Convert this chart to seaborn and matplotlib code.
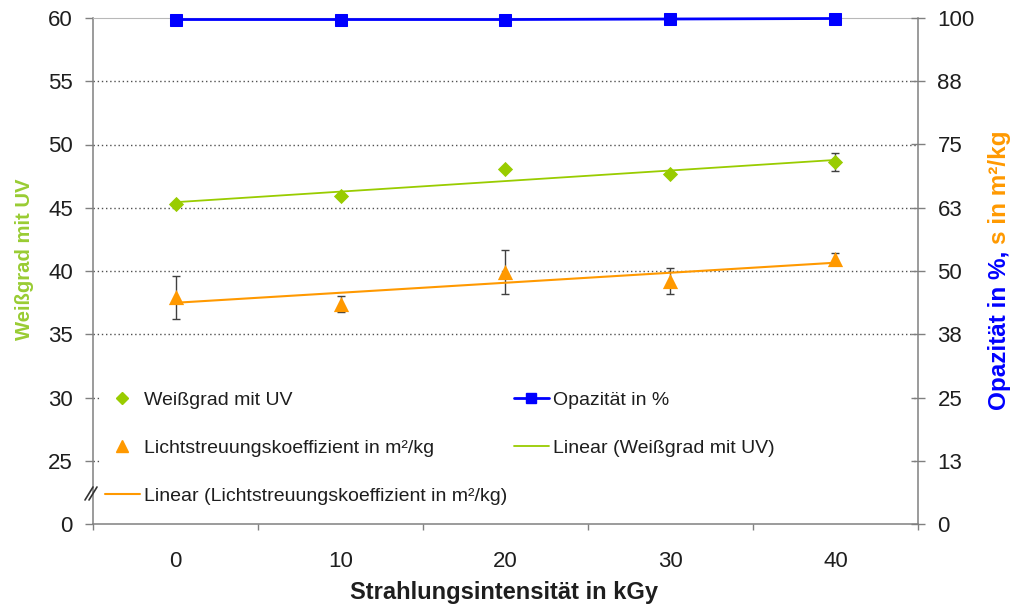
import numpy as np
import pandas as pd
import matplotlib
matplotlib.use("Agg")
import matplotlib.pyplot as plt
import seaborn as sns
from matplotlib.patches import Rectangle
from matplotlib.lines import Line2D

# Messwerte je Strahlungsdosis
doses = [0, 10, 20, 30, 40]
weissgrad = [45.3, 45.9, 48.1, 47.65, 48.6]
weissgrad_err = [0.1, 0.1, 0.1, 0.1, 0.7]
streuung = [44.8, 43.4, 49.8, 48.0, 52.4]
streuung_err = [4.3, 1.6, 4.4, 2.6, 1.1]
opazitaet = [99.7, 99.7, 99.7, 99.8, 99.9]

# Achsenbeschriftungen (linke Achse unterbrochen zwischen 0 und 25)
left_ticks = [20, 25, 30, 35, 40, 45, 50, 55, 60]
left_tick_labels = ["0", "25", "30", "35", "40", "45", "50", "55", "60"]
right_ticks = [0, 12.5, 25, 37.5, 50, 62.5, 75, 87.5, 100]
right_tick_labels = ["0", "13", "25", "38", "50", "63", "75", "88", "100"]

GREEN = "#99CC00"
GREEN_TXT = "#99CC33"
ORANGE = "#FF9900"
BLUE = "#0000FF"
GRAY = "#808080"
TXT = "#1e1e1e"

sns.set_theme(style="white")
plt.rcParams["font.family"] = ["Liberation Sans", "DejaVu Sans"]

W, H = 1012, 614
fig = plt.figure(figsize=(W / 100, H / 100), dpi=100)
ax = fig.add_axes([93 / W, 1 - 524 / H, 825 / W, 506 / H])
ax2 = ax.twinx()

df = pd.DataFrame({
    "dose": doses,
    "weiss": weissgrad,
    "streu": streuung,
    "opaz": opazitaet,
})
df["weiss_fit"] = np.polyval(np.polyfit(df["dose"], df["weiss"], 1), df["dose"])
df["streu_fit"] = np.polyval(np.polyfit(df["dose"], df["streu"], 1), df["dose"])

# Weißgrad (linke Achse)
sns.lineplot(data=df, x="dose", y="weiss_fit", ax=ax, color=GREEN, lw=1.3, zorder=3)
ax.errorbar(df["dose"], df["weiss"], yerr=weissgrad_err, fmt="none",
            ecolor="#404040", elinewidth=1, capsize=3, zorder=4)
sns.scatterplot(data=df, x="dose", y="weiss", ax=ax, marker="D", s=60,
                color=GREEN, edgecolor=GREEN, linewidth=0, zorder=5)

# Lichtstreuung und Opazität (rechte Achse)
ax2.errorbar(df["dose"], df["streu"], yerr=streuung_err, fmt="none",
             ecolor="#404040", elinewidth=1, capsize=3, zorder=2)
sns.scatterplot(data=df, x="dose", y="streu", ax=ax2, marker="^", s=120,
                color=ORANGE, edgecolor=ORANGE, linewidth=0, zorder=3)
sns.lineplot(data=df, x="dose", y="streu_fit", ax=ax2, color=ORANGE, lw=1.5, zorder=4)
sns.lineplot(data=df, x="dose", y="opaz", ax=ax2, color=BLUE, lw=2, marker="s",
             markersize=9, markeredgecolor=BLUE, zorder=5)
for ln in ax2.get_lines():
    ln.set_clip_on(False)

# x-Achse: Kategorien mit Teilstrichen zwischen den Werten
ax.set_xlim(-5, 45)
ax.set_xticks(doses)
ax.set_xticks([-5, 5, 15, 25, 35, 45], minor=True)
ax.tick_params(axis="x", which="major", bottom=False, length=0, pad=19.5,
               labelsize=16, labelcolor=TXT)
ax.tick_params(axis="x", which="minor", bottom=True, length=4.3, width=1,
               color=GRAY, direction="out")

ax.set_ylim(20, 60)
ax.set_yticks(left_ticks)
ax.set_yticklabels(left_tick_labels)
ax.tick_params(axis="y", left=True, direction="out", length=5.8, width=1,
               color=GRAY, pad=8.6, labelsize=16, labelcolor=TXT)

ax2.set_ylim(0, 100)
ax2.set_yticks(right_ticks)
ax2.set_yticklabels(right_tick_labels)
ax2.tick_params(axis="y", right=True, direction="inout", length=10, width=1,
                color=GRAY, pad=9, labelsize=16, labelcolor=TXT)

for a in (ax, ax2):
    a.set_xlabel("")
    a.set_ylabel("")

# Gitterlinien gepunktet
ax.set_axisbelow(True)
ax.grid(axis="y", color="#505050", linestyle=(0, (1, 2)), linewidth=1)
ax.grid(axis="x", visible=False)
ax2.grid(False)
glines = ax.get_ygridlines()
glines[0].set_visible(False)
glines[-1].set_visible(False)

# Rahmen
for name in ("left", "bottom"):
    ax.spines[name].set_color(GRAY)
    ax.spines[name].set_linewidth(1.1)
ax.spines["right"].set_visible(False)
ax.spines["top"].set_color("#B8B8B8")
ax.spines["top"].set_linewidth(0.8)
ax2.spines["right"].set_color(GRAY)
ax2.spines["right"].set_linewidth(1.1)
for name in ("left", "bottom", "top"):
    ax2.spines[name].set_visible(False)

# Achsenbruch-Zeichen an der linken Achse
def px(xp, yp):
    return (xp - 93) / 825, (524 - yp) / 506

for dx in (0, 4):
    (x0, y0), (x1, y1) = px(85 + dx, 500), px(93 + dx, 487)
    ax.plot([x0, x1], [y0, y1], transform=ax.transAxes, color="#333333",
            lw=1.2, clip_on=False, zorder=10)

# Legendenhintergrund
bx0, by0 = px(100, 520)
bx1, by1 = px(913, 352)
ax.add_patch(Rectangle((bx0, by0), bx1 - bx0, by1 - by0, transform=ax.transAxes,
                       facecolor="white", edgecolor="none", zorder=1))

handles = [
    Line2D([], [], ls="none", marker="D", color=GREEN, ms=6.5, mec=GREEN),
    Line2D([], [], ls="none", marker="^", color=ORANGE, ms=9, mec=ORANGE),
    Line2D([], [], color=ORANGE, lw=1.5),
    Line2D([], [], color=BLUE, lw=2, marker="s", ms=7.5, mec=BLUE),
    Line2D([], [], color=GREEN, lw=1.3),
]
labels = [
    "Weißgrad mit UV",
    "Lichtstreuungskoeffizient in m²/kg",
    "Linear (Lichtstreuungskoeffizient in m²/kg)",
    "Opazität in %",
    "Linear (Weißgrad mit UV)",
]
lx, ly = px(105, 391)
leg = ax2.legend(handles, labels, ncol=2, loc="upper left", bbox_to_anchor=(lx, ly),
                 frameon=False, fontsize=14, handlelength=1.8, handletextpad=0.2,
                 columnspacing=0.35, labelspacing=1.58, borderpad=0, borderaxespad=0)
for t in leg.get_texts():
    t.set_color(TXT)

# Achsentitel
fig.text(504 / W, 1 - 592 / H, "Strahlungsintensität in kGy", ha="center",
         va="center", fontsize=17, fontweight="bold", color=TXT)
fig.text(25 / W, 1 - 259 / H, "Weißgrad mit UV", ha="center", va="center",
         rotation=90, fontsize=14.6, fontweight="bold", color=GREEN_TXT)

fig.canvas.draw()
t_blue = fig.text(1000 / W, 1 - 410 / H, "Opazität in %,", ha="center", va="bottom",
                  rotation=90, fontsize=17.5, fontweight="bold", color=BLUE)
fig.canvas.draw()
bb = t_blue.get_window_extent()
gap = 7
fig.text(1000 / W, (bb.y1 + gap) / H, "s in m²/kg", ha="center", va="bottom",
         rotation=90, fontsize=17.5, fontweight="bold", color=ORANGE)

fig.savefig("out.png", dpi=100, facecolor="white")
